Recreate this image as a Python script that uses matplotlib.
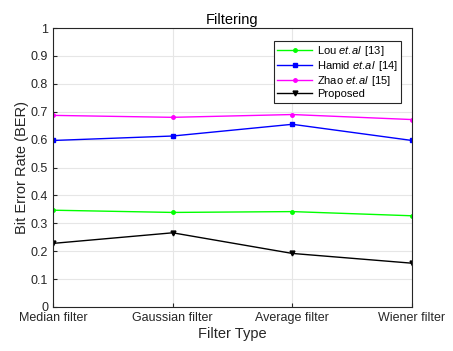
import numpy as np
import matplotlib.pyplot as plt

plt.rcParams['font.family'] = ['Liberation Sans', 'DejaVu Sans']
plt.rcParams['mathtext.fontset'] = 'custom'
plt.rcParams['mathtext.rm'] = 'Liberation Sans'
plt.rcParams['mathtext.it'] = 'Liberation Sans:italic'

filters = ['Median filter', 'Gaussian filter', 'Average filter', 'Wiener filter']
lou = [0.347, 0.339, 0.342, 0.327]
hamid = [0.597, 0.613, 0.655, 0.597]
zhao = [0.687, 0.680, 0.690, 0.672]
proposed = [0.228, 0.266, 0.192, 0.157]

fig = plt.figure(figsize=(4.53, 3.51), dpi=100)
ax = fig.add_axes([0.117, 0.1254, 0.7925, 0.7946])

# mathtext puts a space after '.', \! takes it back out
etal = r'$\mathit{et.\!al}\,$'
x = np.arange(len(filters))
ax.plot(x, lou, color='#00ff00', marker='.', markersize=5, lw=1, label='Lou ' + etal + ' [13]')
ax.plot(x, hamid, color='#0000ff', marker='s', markersize=2.5, lw=1, label='Hamid ' + etal + ' [14]')
ax.plot(x, zhao, color='#ff00ff', marker='.', markersize=5, lw=1, label='Zhao ' + etal + ' [15]')
ax.plot(x, proposed, color='black', marker='v', markersize=3.5, lw=1, label='Proposed')

ax.set_xlim(0, 3)
ax.set_ylim(0, 1)
ax.set_xticks(x)
ax.set_xticklabels(filters)
ax.set_yticks(np.arange(0, 1.01, 0.1))
ax.set_yticklabels(['0', '0.1', '0.2', '0.3', '0.4', '0.5', '0.6', '0.7', '0.8', '0.9', '1'])
ax.tick_params(labelsize=9, direction='in', length=3, color='#262626', labelcolor='#262626')
ax.grid(True, color='#e6e6e6', lw=0.8)
ax.set_axisbelow(True)
for s in ax.spines.values():
    s.set_color('#262626')
    s.set_linewidth(0.8)

ax.set_title('Filtering', fontsize=10.5, color='#000000', pad=3)
ax.set_xlabel('Filter Type', fontsize=10.5, color='#262626', labelpad=2)
ax.set_ylabel('Bit Error Rate (BER)', fontsize=10.5, color='#262626', labelpad=1)

leg = ax.legend(loc='upper right', bbox_to_anchor=(0.97, 0.955), fontsize=8, fancybox=False,
                framealpha=1, edgecolor='#262626', borderpad=0.3, labelspacing=0.1,
                handlelength=3.2, handletextpad=0.4, borderaxespad=0)
leg.get_frame().set_linewidth(0.8)

fig.savefig('out.png', dpi=100)
